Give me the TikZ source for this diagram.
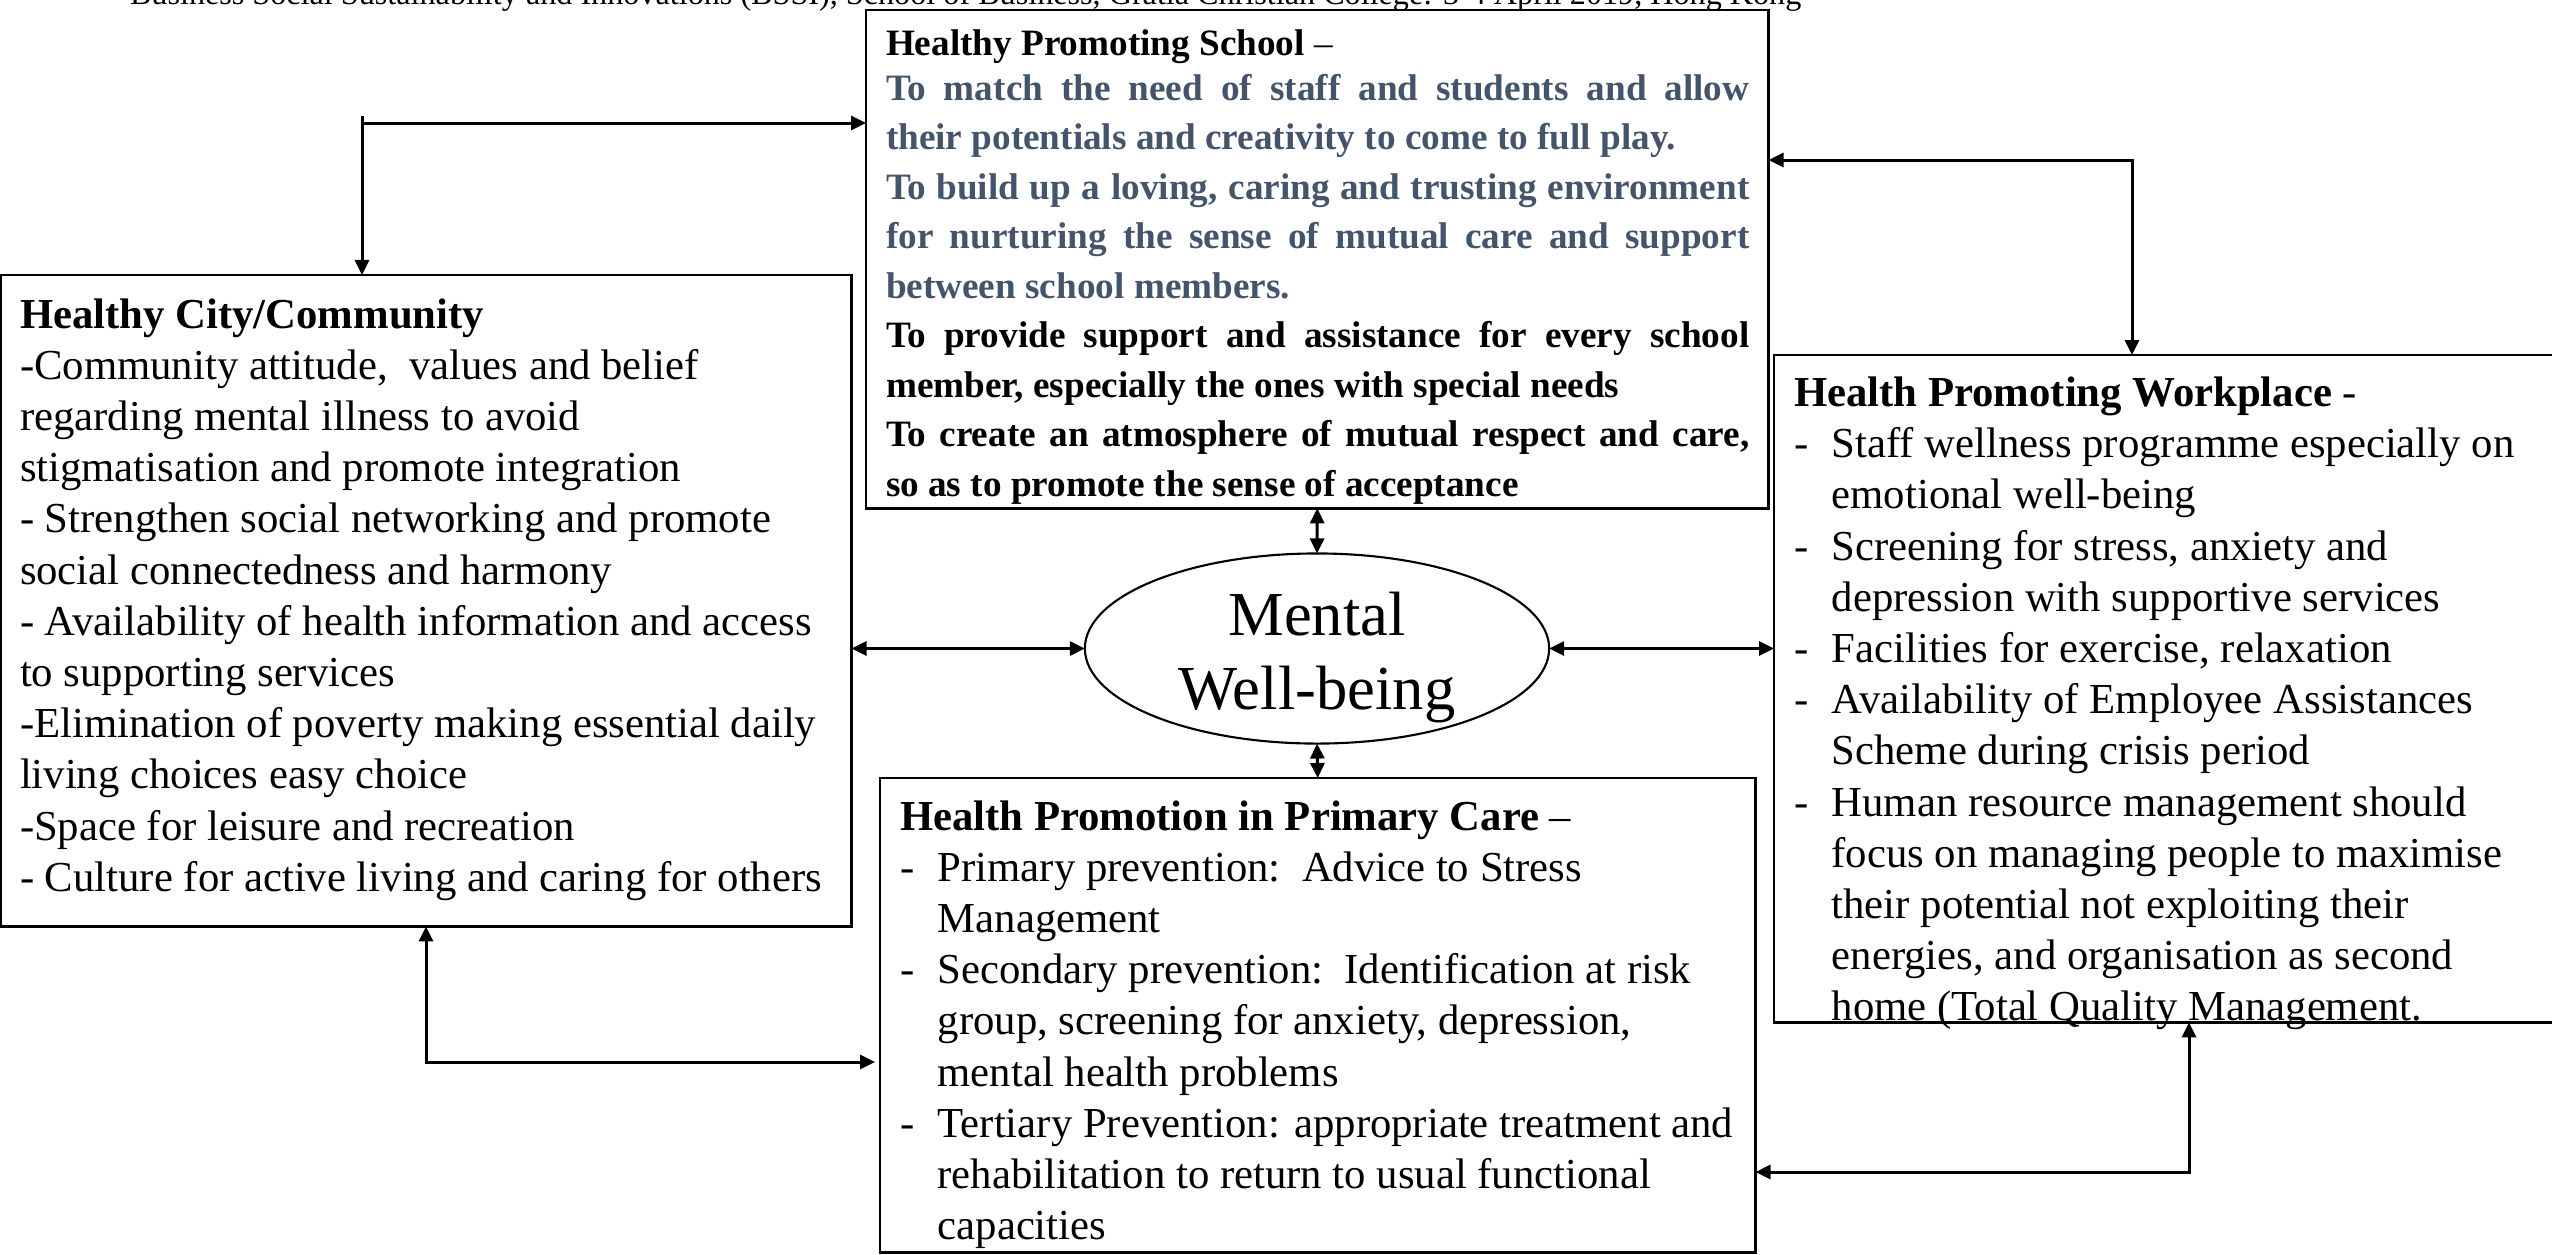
\documentclass[tikz,border=0pt]{standalone}
\usepackage{fontspec}
\setmainfont{Liberation Serif}
\usetikzlibrary{arrows.meta,shapes.geometric}
\definecolor{slate}{HTML}{44546A}
\newcommand\itm[1]{\par\hangindent=0.377cm\hangafter=1\noindent\makebox[0.377cm][l]{-}#1}
\newcommand\bodyfont{\fontsize{12.15pt}{14.56pt}\selectfont\tolerance=10000\hbadness=10000}
\tikzset{
  box/.style={draw=black, line width=0.75pt, rectangle, inner sep=0pt, outer sep=0pt, anchor=north west},
  txt/.style={inner sep=0pt, outer sep=0pt, anchor=base west},
  tip/.tip={Triangle[length=0.15cm,width=0.14cm]},
  link/.style={line width=0.85pt, tip-tip},
  stub/.style={line width=0.85pt, -tip},
}
\begin{document}
\begin{tikzpicture}[x=0.01cm,y=-0.01cm]
\useasboundingbox (0,0) rectangle (2552,1254);
\clip (0,0) rectangle (2552,1254);

% header, cut by the top edge as in the reference
\node[txt, font=\fontsize{9.15pt}{11pt}\selectfont] (hdr) at (130,4)
  {Business Social Sustainability and Innovations (BSSI), School of Business, Gratia Christian College: 3-4 April 2019, Hong Kong};

% boxes
\node[box, minimum width=9.02cm, minimum height=4.98cm] (school) at (866,10) {};
\node[box, minimum width=8.50cm, minimum height=6.51cm] (city) at (1,275) {};
\node[box, minimum width=7.82cm, minimum height=6.67cm] (work) at (1774,355) {};
\node[box, minimum width=8.75cm, minimum height=4.74cm] (prim) at (880,778) {};
\node[draw=black, line width=0.6pt, ellipse, inner sep=0pt, outer sep=0pt,
      minimum width=4.64cm, minimum height=1.90cm] (mw) at (1317,648.5) {};

% texts
\node[txt, font=\fontsize{10.58pt}{13.9pt}\selectfont] (schoolH) at (886,55)
  {\textbf{Healthy Promoting School} –};
\node[txt] (schoolT) at (886,100.5) {\parbox[t]{8.63cm}{\fontsize{10.58pt}{14.06pt}\selectfont\bfseries\tolerance=10000\hbadness=10000
\leavevmode\color{slate}To match the need of staff and students and allow\linebreak their potentials and creativity to come to full play.\par
\leavevmode To build up a loving, caring and trusting environment\linebreak for nurturing the sense of mutual care and support\linebreak between school members.\par
\leavevmode\color{black}To provide support and assistance for every school\linebreak member, especially the ones with special needs\par
\leavevmode To create an atmosphere of mutual respect and care,\linebreak so as to promote the sense of acceptance}};

\node[txt] (cityT) at (20,328) {\parbox[t]{8.4cm}{\bodyfont
\textbf{Healthy City/Community}\newline
-Community attitude,\ \ values and belief\newline
regarding mental illness to avoid\newline
stigmatisation and promote integration\newline
- Strengthen social networking and promote\newline
social connectedness and harmony\newline
- Availability of health information and access\newline
to supporting services\newline
-Elimination of poverty making essential daily\newline
living choices easy choice\newline
-Space for leisure and recreation\newline
- Culture for active living and caring for others}};

\node[txt] (workT) at (1794,406.5) {\parbox[t]{7.5cm}{\bodyfont
\noindent\textbf{Health Promoting Workplace} -
\itm{Staff wellness programme especially on\newline emotional well-being}
\itm{Screening for stress, anxiety and\newline depression with supportive services}
\itm{Facilities for exercise, relaxation}
\itm{Availability of Employee Assistances\newline Scheme during crisis period}
\itm{Human resource management should\newline focus on managing people to maximise\newline their potential not exploiting their\newline energies, and organisation as second\newline home (Total Quality Management.}}};

\node[txt] (primT) at (900,830) {\parbox[t]{8.4cm}{\bodyfont
\noindent\textbf{Health Promotion in Primary Care} –
\itm{Primary prevention:\ \ Advice to Stress\newline Management}
\itm{Secondary prevention:\ \ Identification at risk\newline group, screening for anxiety, depression,\newline mental health problems}
\itm{Tertiary Prevention: appropriate treatment and\newline rehabilitation to return to usual functional\newline capacities}}};

\node[inner sep=0pt, outer sep=0pt, anchor=base] (mwT) at (1317,635)
  {\parbox[t]{4.2cm}{\centering\fontsize{17.8pt}{21.06pt}\selectfont Mental\\Well-being}};

% connectors around the ellipse
\draw[link] (school.south) -- (mw.north);
\draw[link] (mw.south) -- (prim.north);
\draw[link] (city.east |- mw.west) -- (mw.west);
\draw[link] (mw.east) -- (mw.east -| work.west);

% elbow connectors
\coordinate (k1) at (362,123);
\coordinate (k1top) at (362,116);
\draw[stub] (k1top) -- (k1top |- city.north);
\draw[stub] (k1) -- (k1 -| school.west);

\coordinate (k2) at (2132,160);
\draw[link] (school.east |- k2) -- (k2) -- (k2 |- work.north);

\coordinate (k3) at (426,1062);
\draw[link, shorten >=0.05cm] (k3 |- city.south) -- (k3) -- (k3 -| prim.west);

\coordinate (k4) at (2189,1172);
\draw[link] (k4 |- work.south) -- (k4) -- (k4 -| prim.east);
\end{tikzpicture}
\end{document}
